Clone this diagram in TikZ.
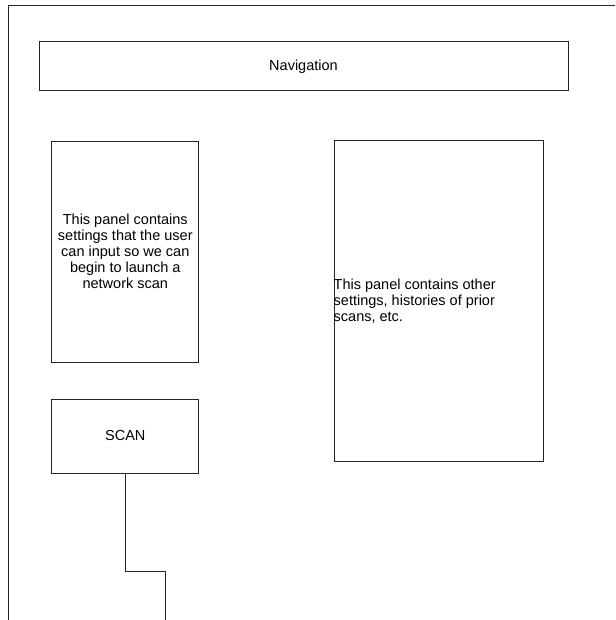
\documentclass[tikz,border=0pt]{standalone}
\usepackage{fontspec}
\setmainfont{Liberation Sans}
\begin{document}
\begin{tikzpicture}[x=1pt,y=-1pt,
  box/.style={draw=black!85, line width=1pt, rectangle, inner sep=0pt, font=\fontsize{14.5}{16}\selectfont},
  conn/.style={draw=black!85, line width=1pt}]
\useasboundingbox (0,0) rectangle (615,620);
\clip (0,0) rectangle (615,620);
\draw[conn] (8.3,640) -- (8.3,5.7) -- (640,5.7);
\node[box, minimum width=529, minimum height=49] (nav) at (303.5,66.5) {Navigation};
\node[box, minimum width=147.3, minimum height=221.5, align=center] (left) at (125.3,251.8)
  {This panel contains\\settings that the user\\can input so we can\\begin to launch a\\network scan};
\node[box, minimum width=209, minimum height=320] (right) at (438.5,301) {};
\node[anchor=west, align=left, inner sep=0pt, font=\fontsize{14.5}{16}\selectfont] (righttext) at (right.west)
  {This panel contains other\\settings, histories of prior\\scans, etc.};
\node[box, minimum width=147.3, minimum height=74] (scan) at (125.3,436) {SCAN};
\coordinate (bend) at (165.5,571);
\coordinate (end) at (165.5,640);
\draw[conn] (scan.south) |- (bend) -- (end);
\end{tikzpicture}
\end{document}
